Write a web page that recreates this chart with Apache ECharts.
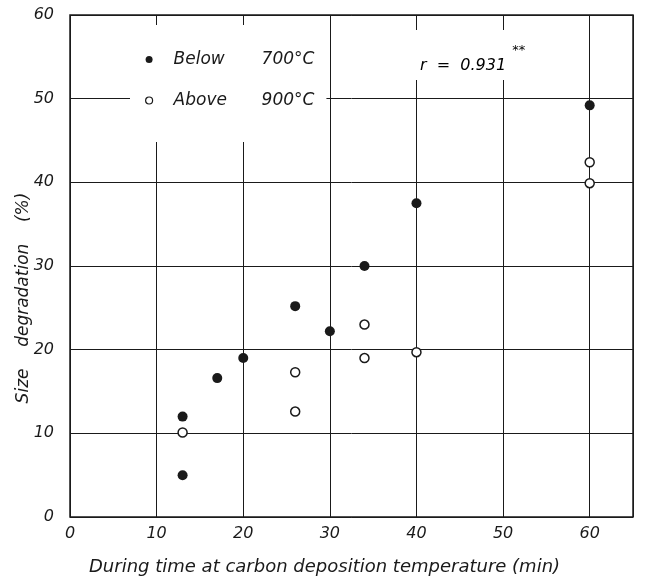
<!DOCTYPE html>
<html>
<head>
<meta charset="utf-8">
<script src="https://cdn.jsdelivr.net/npm/echarts@6/dist/echarts.min.js"></script>
<style>
  html, body { margin: 0; padding: 0; background: #fff; }
  #chart { width: 647px; height: 585px; }
</style>
</head>
<body>
<div id="chart"></div>
<script>
// data (min, %)
const belowTime = [13, 13, 17, 20, 26, 30, 34, 40, 60];
const belowDeg  = [5, 12, 16.6, 19, 25.2, 22.2, 30, 37.5, 49.2];
const aboveTime = [13, 26, 26, 34, 34, 40, 60, 60];
const aboveDeg  = [10.1, 17.3, 12.6, 23, 19, 19.7, 42.4, 39.9];
const seriesNames = ['Below', 'Above'];
const seriesTemps = ['700°C', '900°C'];

const ink = '#1a1a1a';
const font = 'DejaVu Sans';

function pairs(xs, ys) {
  return xs.map((x, i) => [x, ys[i]]);
}

const chart = echarts.init(document.getElementById('chart'), null, { renderer: 'canvas' });

const option = {
  backgroundColor: '#fff',
  animation: false,
  grid: {
    left: 70, right: 14, top: 15, bottom: 68,
    show: true, borderColor: ink, borderWidth: 1.5, backgroundColor: 'transparent'
  },
  xAxis: {
    type: 'value', min: 0, max: 65, interval: 10,
    axisLine: { show: false },
    axisTick: { show: false },
    axisLabel: {
      showMaxLabel: false, margin: 9,
      color: ink, fontFamily: font, fontStyle: 'italic', fontSize: 16
    },
    splitLine: { show: true, lineStyle: { color: ink, width: 1 } }
  },
  yAxis: {
    type: 'value', min: 0, max: 60, interval: 10,
    axisLine: { show: false },
    axisTick: { show: false },
    axisLabel: {
      margin: 16,
      color: ink, fontFamily: font, fontStyle: 'italic', fontSize: 16
    },
    splitLine: { show: true, lineStyle: { color: ink, width: 1 } }
  },
  legend: {
    orient: 'vertical',
    left: 130, top: 25,
    padding: [26, 12, 33, 15],
    backgroundColor: '#fff',
    itemWidth: 7, itemHeight: 7, itemGap: 24, itemTextGap: 5,
    icon: 'circle',
    data: [
      { name: seriesNames[0], itemStyle: { color: ink, borderWidth: 0 } },
      { name: seriesNames[1], itemStyle: { color: '#fff', borderColor: ink, borderWidth: 1.2 } }
    ],
    formatter: function (name) {
      const i = seriesNames.indexOf(name);
      return '{a|' + name + '}{b|' + seriesTemps[i] + '}';
    },
    textStyle: {
      rich: {
        a: { width: 88, padding: [0, 0, 0, 16], fontFamily: font, fontStyle: 'italic', fontSize: 17, color: ink },
        b: { fontFamily: font, fontStyle: 'italic', fontSize: 17, color: ink }
      }
    }
  },
  graphic: [
    {
      type: 'text', left: 412, top: 30, z: 50,
      style: {
        text: '{r|r  =  0.931}{s|**}',
        backgroundColor: '#fff',
        padding: [4, 8, 6, 8],
        rich: {
          r: { fontFamily: font, fontStyle: 'italic', fontSize: 16, color: ink, lineHeight: 40, verticalAlign: 'bottom', padding: [14, 0, 0, 0] },
          s: { fontFamily: font, fontSize: 13, color: ink, verticalAlign: 'top', padding: [10, 0, 0, 6] }
        }
      }
    },
    {
      type: 'text', left: 89, top: 558, z: 50,
      style: {
        text: 'During time at carbon deposition temperature (min)',
        fontFamily: font, fontStyle: 'italic', fontSize: 18, fill: ink
      }
    },
    {
      type: 'text', x: 24, y: 298, rotation: Math.PI / 2, z: 50,
      style: {
        text: 'Size    degradation    (%)',
        fontFamily: font, fontStyle: 'italic', fontSize: 17, fill: ink,
        align: 'center', verticalAlign: 'middle'
      }
    }
  ],
  series: [
    {
      name: seriesNames[0], type: 'scatter',
      data: pairs(belowTime, belowDeg),
      symbol: 'circle', symbolSize: 10,
      itemStyle: { color: ink, opacity: 1 },
      z: 10
    },
    {
      name: seriesNames[1], type: 'scatter',
      data: pairs(aboveTime, aboveDeg),
      symbol: 'circle', symbolSize: 9,
      itemStyle: { color: '#fff', borderColor: ink, borderWidth: 1.5, opacity: 1 },
      z: 10
    }
  ]
};

chart.setOption(option);
</script>
</body>
</html>
